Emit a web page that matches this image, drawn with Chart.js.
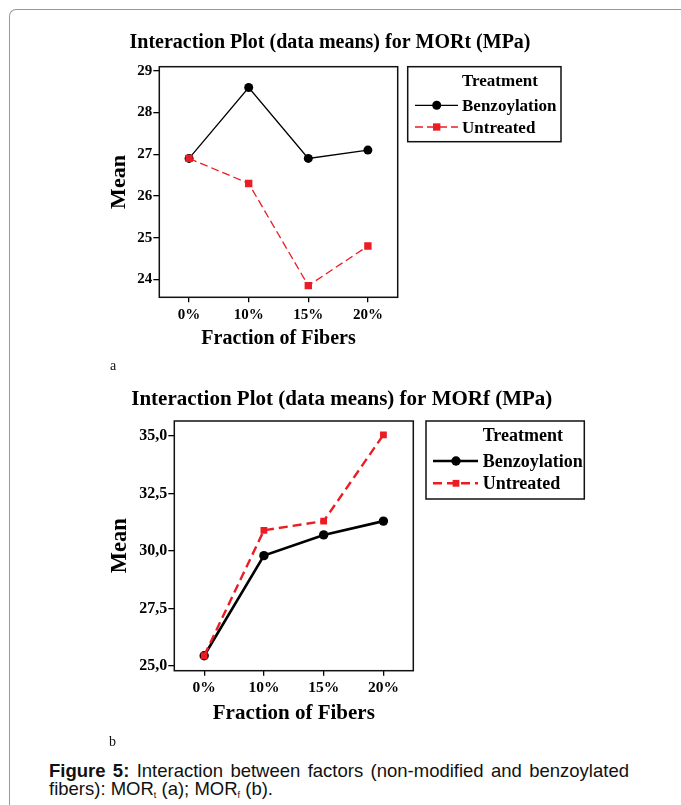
<!DOCTYPE html>
<html>
<head>
<meta charset="utf-8">
<script src="https://cdn.jsdelivr.net/npm/chart.js@4.4.0/dist/chart.umd.min.js"></script>
<style>
  body { margin: 0; background: #fff; }
  #page { position: relative; width: 681px; height: 805px; overflow: hidden; background: #fff; }
  #frame { position: absolute; left: 9px; top: 9px; width: 720px; height: 820px;
           border-top: 1px solid #999; border-left: 1px solid #999; border-top-left-radius: 7px; }
  canvas { position: absolute; }
  .panel { position: absolute; font: 14px "Liberation Serif", serif; color: #111; }
  #caption { position: absolute; left: 49px; top: 762px; width: 580px;
             font: 18.5px "Liberation Sans", Arial, sans-serif; line-height: 18px; color: #111;
             text-align: justify; text-align-last: left; }
  #caption sub { font-size: 9px; vertical-align: -3px; line-height: 0; }
</style>
</head>
<body>
<div id="page">
  <div id="frame"></div>
  <canvas id="chartA" width="480" height="340" style="left:100px; top:20px;"></canvas>
  <div class="panel" style="left:110px; top:358px;">a</div>
  <canvas id="chartB" width="500" height="350" style="left:100px; top:380px;"></canvas>
  <div class="panel" style="left:109px; top:734px;">b</div>
  <div id="caption"><b>Figure 5:</b> Interaction between factors (non-modified and benzoylated fibers): MOR<sub>t</sub> (a); MOR<sub>f</sub> (b).</div>
</div>
<script>
// data
const fractions = ['0%', '10%', '15%', '20%'];
const seriesNames = ['Benzoylation', 'Untreated'];

const morT_benzoylation = [26.9, 28.6, 26.9, 27.1];
const morT_untreated = [26.9, 26.3, 23.85, 24.8];
const morT_ticks = [24, 25, 26, 27, 28, 29];
const morT_range = [23.57, 29.1];

const morF_benzoylation = [25.45, 29.8, 30.7, 31.3];
const morF_untreated = [25.45, 30.9, 31.3, 35.05];
const morF_ticks = [25, 27.5, 30, 32.5, 35];
const morF_range = [24.8, 35.65];

Chart.defaults.font.family = '"Liberation Serif", "Times New Roman", serif';
Chart.defaults.color = '#000';

// draws the box round the plot, the title and the "Treatment" legend
const frameLegend = {
  id: 'frameLegend',
  afterDraw(chart, args, o) {
    const ctx = chart.ctx;
    const area = chart.chartArea;
    ctx.save();
    ctx.lineWidth = o.frameWidth;
    ctx.strokeStyle = '#111';
    ctx.strokeRect(area.left, area.top, area.right - area.left, area.bottom - area.top);

    ctx.fillStyle = '#000';
    ctx.font = 'bold ' + o.titleSize + 'px "Liberation Serif"';
    ctx.textAlign = 'center';
    ctx.textBaseline = 'alphabetic';
    ctx.fillText(o.title, o.titleX, o.titleBaseline);

    const lx = area.right + o.gap, ly = area.top;
    ctx.strokeRect(lx, ly, o.boxW, o.boxH);
    ctx.font = 'bold ' + o.legendSize + 'px "Liberation Serif"';
    ctx.textAlign = 'left';
    ctx.fillText('Treatment', lx + o.textX, ly + o.rowY[0] + o.legendSize * 0.33);

    chart.data.datasets.forEach((ds, i) => {
      const y = ly + o.rowY[i + 1];
      ctx.beginPath();
      ctx.setLineDash(ds.borderDash || []);
      ctx.lineWidth = ds.borderWidth;
      ctx.strokeStyle = ds.borderColor;
      ctx.moveTo(lx + o.lineX[0], y);
      ctx.lineTo(lx + o.lineX[1], y);
      ctx.stroke();
      ctx.setLineDash([]);
      const cx = lx + o.markX;
      ctx.fillStyle = ds.pointBackgroundColor;
      if (ds.pointStyle == 'rect') {
        const s = ds.pointRadius * Math.SQRT1_2;
        ctx.fillRect(cx - s, y - s, 2 * s, 2 * s);
      } else {
        ctx.beginPath();
        ctx.arc(cx, y, ds.pointRadius, 0, Math.PI * 2);
        ctx.fill();
      }
      ctx.fillStyle = '#000';
      ctx.fillText(ds.label, lx + o.textX, y + o.legendSize * 0.33);
    });
    ctx.restore();
  }
};

function makeChart(id, benz, untr, ticks, range, s) {
  const bold = size => ({ size: size, weight: 'bold' });
  return new Chart(document.getElementById(id), {
    type: 'line',
    data: {
      labels: fractions,
      datasets: [
        { label: seriesNames[0], data: benz, borderColor: '#000', backgroundColor: '#000',
          pointBackgroundColor: '#000', pointBorderWidth: 0, pointRadius: s.circle,
          pointStyle: 'circle', borderWidth: s.lineW, order: 1 },
        { label: seriesNames[1], data: untr, borderColor: '#ec1c24', backgroundColor: '#ec1c24',
          pointBackgroundColor: '#ec1c24', pointBorderWidth: 0, pointRadius: s.square,
          pointStyle: 'rect', borderWidth: s.dashW, borderDash: s.dash, order: 0 }
      ]
    },
    options: {
      responsive: false,
      animation: false,
      devicePixelRatio: 1,
      events: [],
      layout: { padding: { left: 0, top: s.top, right: s.right, bottom: 0 } },
      plugins: {
        legend: { display: false },
        tooltip: { enabled: false },
        frameLegend: s.legend
      },
      scales: {
        x: {
          offset: true,
          border: { display: false },
          grid: { drawOnChartArea: false, drawTicks: true, tickLength: 5, color: '#000', lineWidth: 1.3 },
          ticks: { font: bold(s.xTick), padding: s.xPad, maxRotation: 0, autoSkip: false },
          title: { display: true, text: 'Fraction of Fibers', font: bold(s.xTitle),
                   padding: { top: 0, bottom: s.xTitlePad } },
          afterFit: sc => { sc.height = s.xHeight; }
        },
        y: {
          min: range[0],
          max: range[1],
          border: { display: false },
          grid: { drawOnChartArea: false, drawTicks: true, tickLength: 6, color: '#000', lineWidth: 1.3 },
          afterBuildTicks: sc => { sc.ticks = ticks.map(v => ({ value: v })); },
          ticks: { font: bold(s.yTick), padding: 1, callback: s.fmt },
          title: { display: true, text: 'Mean', font: bold(s.yTitle),
                   padding: { top: s.yTitlePad, bottom: 0 } },
          afterFit: sc => { sc.width = s.yWidth; }
        }
      }
    },
    plugins: [frameLegend]
  });
}

makeChart('chartA', morT_benzoylation, morT_untreated, morT_ticks, morT_range, {
  top: 46.7, right: 182.3, xHeight: 62.7, yWidth: 59.3,
  xTick: 15, xPad: 3.5, xTitle: 20, xTitlePad: 9, yTick: 15, yTitle: 22, yTitlePad: 6,
  lineW: 1.3, dashW: 1.3, dash: [8, 4], circle: 4.5, square: 5.2,
  fmt: v => String(v),
  legend: { frameWidth: 1.5, title: 'Interaction Plot (data means) for MORt (MPa)',
            titleSize: 20, titleX: 230, titleBaseline: 27.5,
            gap: 10, boxW: 153.3, boxH: 75, legendSize: 17,
            rowY: [14, 38.6, 60.3], lineX: [7.3, 50.3], markX: 29, textX: 54.3 }
});

makeChart('chartB', morF_benzoylation, morF_untreated, morF_ticks, morF_range, {
  top: 41, right: 186.7, xHeight: 59.3, yWidth: 74.3,
  xTick: 15.5, xPad: 2.5, xTitle: 21, xTitlePad: 4, yTick: 16, yTitle: 22.5, yTitlePad: 6.5,
  lineW: 2.6, dashW: 2.4, dash: [9, 5], circle: 4.7, square: 4.8,
  fmt: v => v.toFixed(1).replace('.', ','),
  legend: { frameWidth: 1.5, title: 'Interaction Plot (data means) for MORf (MPa)',
            titleSize: 21, titleX: 241.8, titleBaseline: 25,
            gap: 12.7, boxW: 158.3, boxH: 78, legendSize: 18,
            rowY: [14, 40, 62.3], lineX: [7, 52], markX: 30, textX: 56.7 }
});
</script>
</body>
</html>
